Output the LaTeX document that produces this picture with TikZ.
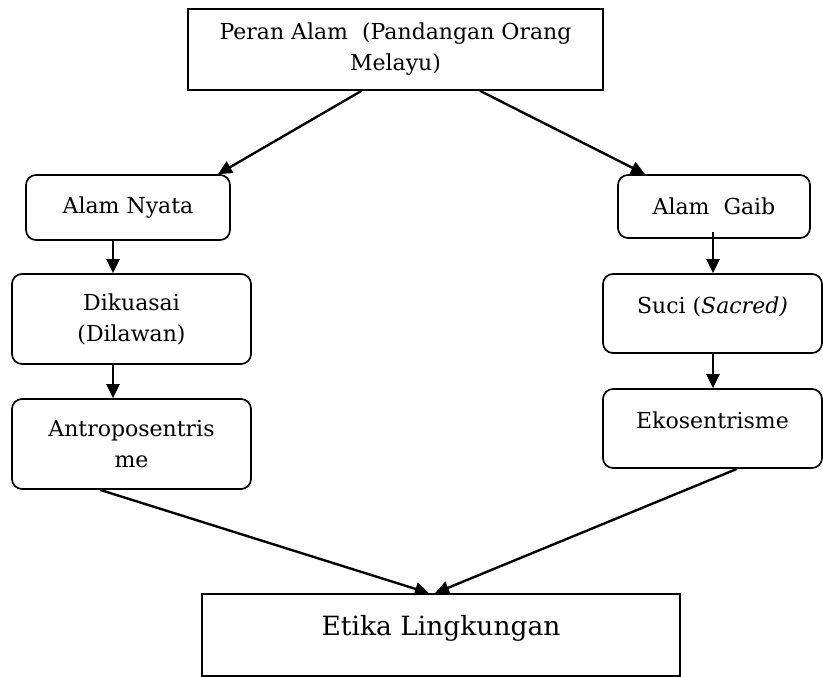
\documentclass[tikz,border=0pt]{standalone}
\usepackage{fontspec}
\setmainfont{DejaVu Serif}
\usetikzlibrary{arrows.meta}

\begin{document}
\begin{tikzpicture}[
		x=1pt, y=-1pt,
		box/.style={
			draw,
			line width=1.7pt,
			align=center,
			inner sep=4pt,
			font=\fontsize{22}{31}\selectfont,
			fill=white
		},
		rbox/.style={
			box,
			rounded corners=10pt
		},
		arr/.style={draw, line width=2.4pt, -{Triangle[width=13pt,length=14pt]}}
		]
		\useasboundingbox (0,0) rectangle (823,677);
		
		% Top node
		\node[box, minimum width=415pt, minimum height=81pt] (peran) at (395.5,49.5)
		{Peran Alam~ (Pandangan Orang\\Melayu)};
		
		% Left column
		\node[rbox, minimum width=204pt, minimum height=65pt] (nyata) at (128,207.5) {Alam Nyata};
		\node[rbox, minimum width=239pt, minimum height=90pt] (diku) at (131.5,319) {Dikuasai\\(Dilawan)};
		\node[rbox, minimum width=239pt, minimum height=90pt] (antro) at (131.5,444) {Antroposentris\\me};
		
		% Right column
		\node[rbox, minimum width=192pt, minimum height=63pt] (gaib) at (714,206.5) {Alam~ Gaib};
		\node[rbox, minimum width=219pt, minimum height=79pt, text height=18pt, text depth=18pt] (suci) at (712.5,313.5)
		{Suci (\textit{Sacred)}};
		\node[rbox, minimum width=219pt, minimum height=79pt, text height=18pt, text depth=18pt] (eko) at (712.5,428.5)
		{Ekosentrisme};
		
		% Bottom node
		\node[box, minimum width=478pt, minimum height=82pt, text height=22pt, text depth=22pt,
			font=\fontsize{26.5}{34}\selectfont] (etika) at (441,635) {Etika Lingkungan};
		
		% Branches from the top
		\draw[arr] ([xshift=-34pt]peran.south) -- ([xshift=90pt]nyata.north);
		\draw[arr] ([xshift=84.5pt]peran.south) -- ([xshift=-69pt]gaib.north);
		
		% Down the columns
		\draw[arr] ([xshift=-15pt]nyata.south) -- ([xshift=-18.5pt]diku.north);
		\draw[arr] ([xshift=-18.5pt]diku.south) -- ([xshift=-18.5pt]antro.north);
		\draw[arr] ([xshift=-1pt,yshift=7pt]gaib.south) -- ([xshift=0.5pt]suci.north);
		\draw[arr] ([xshift=0.5pt]suci.south) -- ([xshift=0.5pt]eko.north);
		
		% Into the bottom node
		\draw[arr] ([xshift=-31.5pt]antro.south) -- ([xshift=-12pt]etika.north);
		\draw[arr] ([xshift=24.5pt]eko.south) -- ([xshift=-6pt]etika.north);
		
	\end{tikzpicture}
\end{document}
